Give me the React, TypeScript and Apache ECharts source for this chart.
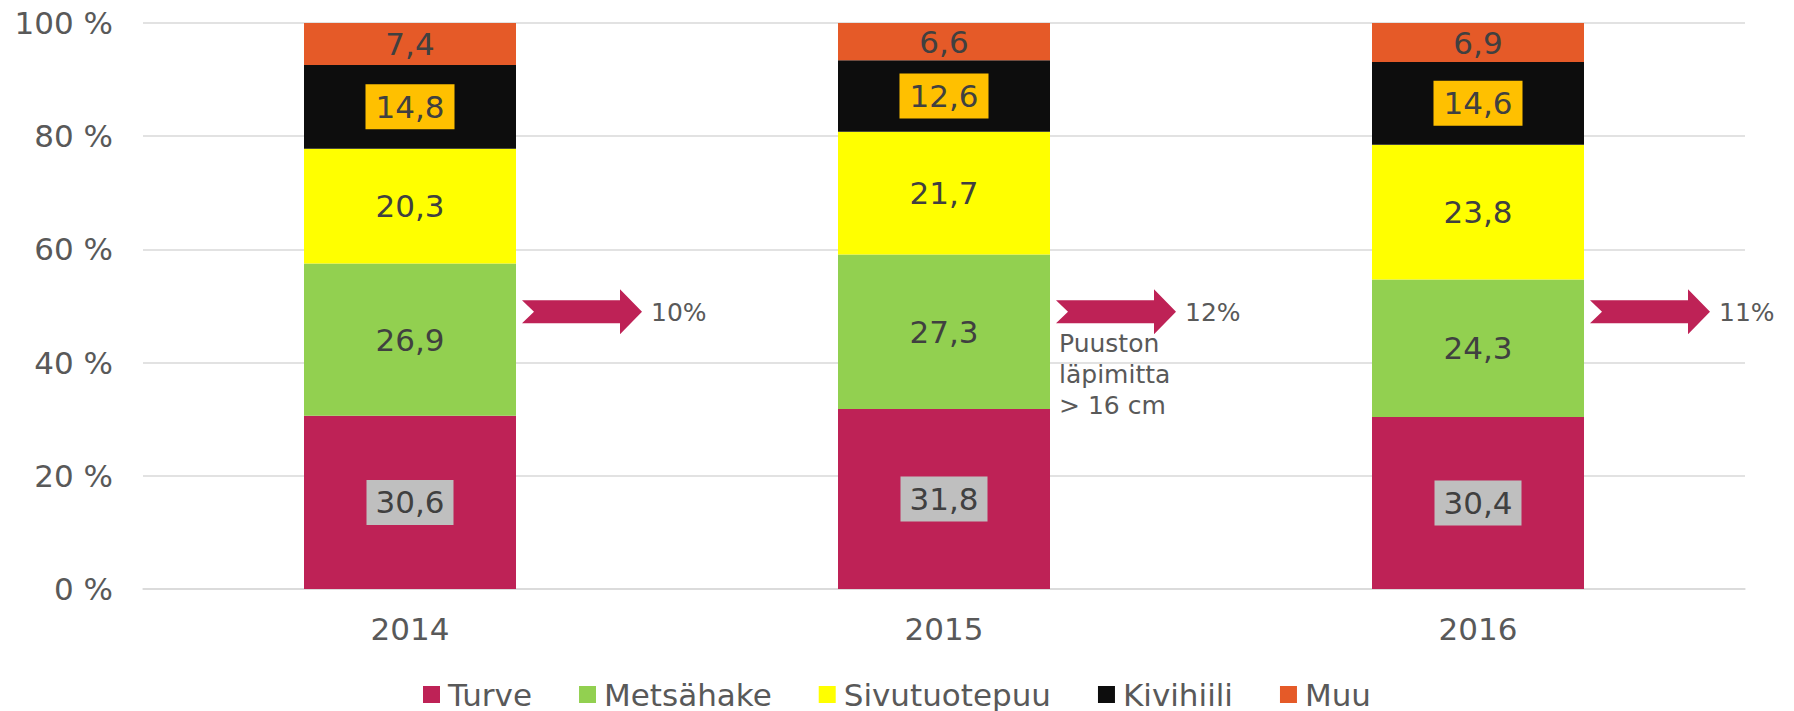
import React, { useEffect, useRef } from "react";
import * as echarts from "echarts";

const categories = ["2014", "2015", "2016"];
const turve = [30.6, 31.8, 30.4];
const metsahake = [26.9, 27.3, 24.3];
const sivutuotepuu = [20.3, 21.7, 23.8];
const kivihiili = [14.8, 12.6, 14.6];
const muu = [7.4, 6.6, 6.9];
const yTicks = { min: 0, max: 100, interval: 20 };
const arrowLevels = [49, 49, 49];
const arrowLabels = ["10%", "12%", "11%"];
const arrowNotes = ["", "Puuston\nläpimitta\n> 16 cm", ""];

const FONT = '"DejaVu Sans", Verdana, sans-serif';
const LABEL_COLOR = "#404040";
const AXIS_COLOR = "#595959";
const BAR_WIDTH = 212;

const fmt = (p: any) => String(p.value).replace(".", ",");

export default function App() {
  const ref = useRef<HTMLDivElement>(null);
  useEffect(() => {
    if (!ref.current) return;
    const chart = echarts.init(ref.current, null, { renderer: "svg" });
    const baseLabel = {
      show: true,
      position: "inside",
      formatter: fmt,
      color: LABEL_COLOR,
      fontSize: 31,
      fontFamily: FONT,
    };
    const mkBar = (name: string, data: number[], color: string, extraLabel: any = {}) => ({
      name,
      type: "bar",
      stack: "total",
      barWidth: BAR_WIDTH,
      data,
      itemStyle: { color },
      label: { ...baseLabel, ...extraLabel },
      emphasis: { disabled: true },
    });
    chart.setOption({
      animation: false,
      textStyle: { fontFamily: FONT },
      grid: { left: 143, right: 49, top: 23, bottom: 122 },
      legend: {
        data: ["Turve", "Metsähake", "Sivutuotepuu", "Kivihiili", "Muu"],
        left: "center",
        top: 674,
        icon: "rect",
        itemWidth: 17,
        itemHeight: 17,
        itemGap: 47,
        textStyle: { fontSize: 31, color: AXIS_COLOR, fontFamily: FONT, padding: [0, 0, 0, 3] },
        selectedMode: false,
      },
      xAxis: {
        type: "category",
        data: categories,
        axisTick: { show: false },
        axisLine: { lineStyle: { color: "#D9D9D9", width: 1.5 } },
        axisLabel: { fontSize: 31, color: AXIS_COLOR, fontFamily: FONT, margin: 24 },
      },
      yAxis: {
        type: "value",
        min: yTicks.min,
        max: yTicks.max,
        interval: yTicks.interval,
        axisLine: { show: false },
        axisTick: { show: false },
        splitLine: { lineStyle: { color: "#D9D9D9", width: 1.5 } },
        axisLabel: {
          formatter: "{value} %",
          fontSize: 31,
          color: AXIS_COLOR,
          fontFamily: FONT,
          margin: 30,
        },
      },
      series: [
        mkBar("Turve", turve, "#BE2256", { backgroundColor: "#BFBFBF", padding: [7, 9] }),
        mkBar("Metsähake", metsahake, "#92D050"),
        mkBar("Sivutuotepuu", sivutuotepuu, "#FFFF00"),
        mkBar("Kivihiili", kivihiili, "#0D0D0D", { backgroundColor: "#FFC000", padding: [7, 10] }),
        mkBar("Muu", muu, "#E55A28"),
        {
          name: "arrows",
          type: "custom",
          silent: true,
          coordinateSystem: "cartesian2d",
          data: categories.map((_, i) => [i, arrowLevels[i]]),
          encode: { x: 0, y: 1 },
          renderItem: (params: any, api: any) => {
            const p = api.coord([api.value(0), api.value(1)]);
            const x0 = p[0] + BAR_WIDTH / 2 + 6;
            const y = p[1];
            const children: any[] = [
              {
                type: "polygon",
                shape: {
                  points: [
                    [x0, y - 11.5],
                    [x0 + 98, y - 11.5],
                    [x0 + 98, y - 22.5],
                    [x0 + 120, y],
                    [x0 + 98, y + 22.5],
                    [x0 + 98, y + 11.5],
                    [x0, y + 11.5],
                    [x0 + 12, y],
                  ],
                },
                style: { fill: "#BE2256" },
              },
              {
                type: "text",
                style: {
                  text: arrowLabels[params.dataIndex],
                  x: x0 + 129,
                  y: y + 1,
                  verticalAlign: "middle",
                  align: "left",
                  fill: AXIS_COLOR,
                  fontSize: 25,
                  fontFamily: FONT,
                },
              },
            ];
            const note = arrowNotes[params.dataIndex];
            if (note) {
              children.push({
                type: "text",
                style: {
                  text: note,
                  x: x0 + 3,
                  y: y + 16,
                  verticalAlign: "top",
                  align: "left",
                  fill: AXIS_COLOR,
                  fontSize: 25,
                  lineHeight: 31,
                  fontFamily: FONT,
                },
              });
            }
            return { type: "group", children };
          },
          z: 10,
        },
      ],
    });
    return () => chart.dispose();
  }, []);
  return (
    <div
      ref={ref}
      style={{ position: "fixed", left: 0, top: 0, width: 1794, height: 711, background: "#fff" }}
    />
  );
}
